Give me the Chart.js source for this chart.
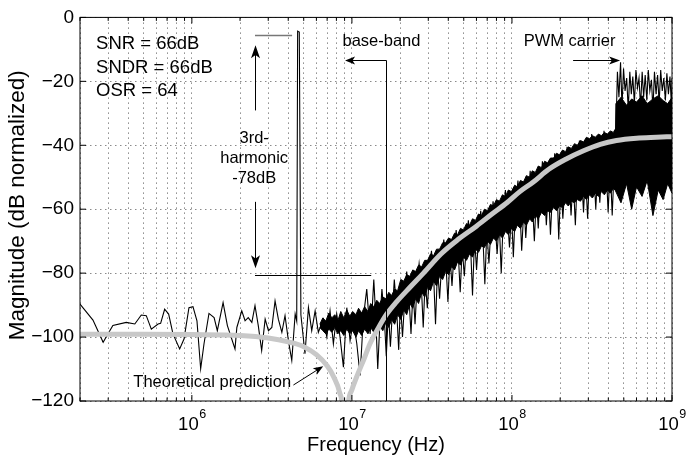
<!DOCTYPE html>
<html>
<head>
<meta charset="utf-8">
<title>Output spectrum</title>
<script src="https://cdn.jsdelivr.net/npm/chart.js@4.4.1/dist/chart.umd.min.js"></script>
<style>
  html, body { margin: 0; padding: 0; background: #fff; }
  #wrap { width: 686px; height: 457px; }
</style>
</head>
<body>
<div id="wrap"><canvas id="spec" width="686" height="457"></canvas></div>
<script>
/* ── Data: frequencies in MHz, magnitudes in dB ── */

// sparse low-frequency part of the measured spectrum (incl. the test tone)
const lowMHz = [0.200, 0.241, 0.279, 0.307, 0.321, 0.389, 0.440, 0.483, 0.519, 0.558,
  0.615, 0.638, 0.676, 0.716, 0.762, 0.839, 0.893, 0.959, 1.016, 1.076,
  1.135, 1.191, 1.279, 1.377, 1.442, 1.567, 1.667, 1.86, 1.91, 2.05,
  2.15, 2.25, 2.37, 2.48, 2.60, 2.73, 2.87, 3.01, 3.16, 3.31,
  3.47, 3.65, 3.82, 4.01, 4.21, 4.42, 4.52, 4.58, 4.69, 4.80,
  5.09, 5.35, 5.61, 5.89, 6.17, 6.63, 6.97, 7.30, 7.66, 8.04,
  8.43, 8.85, 9.29, 9.74, 10.21, 10.73, 11.25, 11.79, 12.38, 12.99];
const lowDb = [-89.7, -94.7, -101.6, -98.0, -96.4, -95.4, -95.9, -93.1, -93.3, -97.5,
  -95.9, -95.7, -91.3, -92.8, -99.0, -103.7, -100.6, -90.8, -90.5, -94.9,
  -109.9, -102.1, -92.6, -93.9, -98.0, -89.2, -96.4, -103.7, -97.0, -91.8,
  -94.9, -93.9, -95.4, -90.2, -96.4, -104.2, -94.4, -98.0, -97.0, -88.7,
  -94.4, -98.5, -93.3, -101.1, -107.3, -92.8, -95, -4.3, -4.6, -93,
  -105.2, -90.8, -98.0, -91.8, -98.5, -94.4, -100, -91.8, -102.1, -92.8,
  -100, -109.4, -90.8, -101.1, -94.9, -102.1, -112, -93.9, -85, -99];

// dense noise-shaped part: core level alternating with spikes
const noiseMHz = [13.3, 13.7, 14.1, 14.5, 15.0, 15.4, 15.9, 16.4, 16.9, 17.4,
  17.9, 18.4, 19.0, 19.6, 20.1, 20.7, 21.4, 22.0, 22.7, 23.4,
  24.1, 24.8, 25.5, 26.3, 27.1, 27.9, 28.7, 29.6, 30.5, 31.4,
  32.3, 33.3, 34.3, 35.3, 36.4, 37.5, 38.6, 39.8, 41.0, 42.2,
  43.5, 44.8, 46.1, 47.5, 48.9, 50.4, 51.9, 53.4, 55.0, 56.7,
  58.4, 60.1, 61.9, 63.8, 65.7, 67.7, 69.7, 71.8, 74.0, 76.2,
  78.5, 80.8, 83.2, 85.7, 88.3, 91.0, 93.7, 96.5, 99.4, 102,
  105, 109, 112, 115, 119, 122, 126, 130, 134, 138,
  142, 146, 150, 155, 160, 164, 169, 174, 180, 185,
  191, 196, 202, 208, 215, 221, 228, 234, 241, 249,
  256, 264, 272, 280, 288, 297, 306, 315, 324, 334,
  344, 354, 365, 376, 387, 399, 411, 423, 436];
const noiseDb = [-94, -82, -94, -110, -94, -85, -93, -106, -92, -103,
  -92, -82, -90.5, -104, -89, -100, -88, -79.5, -87, -99,
  -85, -96, -84, -77, -83, -97, -82, -91, -80, -73,
  -79, -96, -78, -88, -77, -69.5, -76, -89, -74.5, -84,
  -73.5, -66.5, -73, -86, -72, -81, -71, -63.5, -70, -87,
  -69, -79, -68.5, -60.5, -67.5, -83.5, -66.5, -77, -65.5, -57.5,
  -64.5, -74, -63.5, -80, -62.5, -54, -62, -72, -61, -75,
  -60, -51, -59, -73, -58.5, -69, -57.5, -48, -57, -70,
  -56, -66, -55, -45, -54, -65, -53.5, -68, -52.5, -42.5,
  -52, -69.5, -51.5, -63, -51, -40.5, -50.5, -62, -50, -65,
  -49.5, -38.5, -49, -61, -48.5, -63, -48, -36.5, -47, -60,
  -47, -58, -46.5, -35.5, -46, -61, -46, -62, -46];

// PWM carrier region
const carrierMHz = [446, 456, 466, 477, 487, 498, 509, 521, 533, 545,
  557, 569, 582, 595, 609, 622, 636, 651, 665, 680,
  696, 711, 727, 744, 760, 777, 795, 813, 831, 850,
  869, 889, 909, 929, 950, 971, 993, 1000];
const carrierDb = [-36, -17, -25, -14, -28, -16, -23, -19, -29, -17,
  -24, -18.5, -27, -16.5, -22, -19, -28, -17, -25, -18,
  -26, -16.5, -23, -19.5, -29, -17, -24, -18, -27, -16.5,
  -23, -19, -26, -17.5, -24, -18.5, -28, -19];

// solid core of the dense spectrum (ragged top and bottom edge)
const bandMHz = [6.3, 6.58, 6.87, 7.17, 7.49, 7.82, 8.16, 8.52, 8.9, 9.29,
  9.7, 10.1, 10.6, 11.0, 11.5, 12.0, 12.6, 13.1, 13.7, 14.3,
  14.9, 15.6, 16.3, 17.0, 17.7, 18.5, 19.3, 20.2, 21.1, 22.0,
  23.0, 24.0, 25.0, 26.1, 27.3, 28.5, 29.7, 31.0, 32.4, 33.8,
  35.3, 36.9, 38.5, 40.2, 41.9, 43.8, 45.7, 47.7, 49.8, 52.0,
  54.3, 56.7, 59.2, 61.8, 64.5, 67.3, 70.3, 73.4, 76.6, 80.0,
  83.5, 87.2, 91.0, 95.0, 99.2, 104, 108, 113, 118, 123,
  129, 134, 140, 146, 153, 160, 167, 174, 182, 190,
  198, 207, 216, 225, 235, 246, 256, 268, 280, 292,
  305, 318, 332, 347, 362, 378, 395, 412, 430, 441,
  446, 480, 520, 560, 600, 650, 700, 760, 820, 880, 940, 1000];
const bandTop = [-96, -94, -95, -92.5, -94, -93, -95, -92, -94, -91.5,
  -93.5, -92, -93, -91, -92.5, -90.5, -92, -89.5, -90.5, -88.5,
  -89.5, -87.5, -88, -86, -87, -85, -85.5, -82, -82.5, -80.5,
  -81, -79, -79.5, -77.5, -78, -76, -76, -74, -74.5, -72.5,
  -72.5, -70.5, -70.5, -69, -69.5, -67.5, -68, -66, -66.5, -64.5,
  -65, -63, -63.5, -61.5, -62, -60, -60.5, -58.5, -59, -57,
  -57.5, -55.5, -56, -54, -54.5, -52.5, -53, -51, -51.5, -49.5,
  -50, -48, -48.5, -46.5, -47, -45, -45.5, -44, -44, -42.5,
  -43, -41.5, -42, -40.5, -41, -39.5, -40, -38.5, -39, -37.5,
  -38, -37, -37.5, -36.5, -37, -36, -36.5, -35.5, -36, -35,
  -27, -25, -27.5, -25.5, -26.5, -24.5, -27, -25.5, -24.5, -26, -27, -25];
const bandBottom = [-97, -98, -99, -97.5, -98.5, -97, -99, -98, -99.5, -97.5,
  -99, -98, -100, -98, -99.5, -97.5, -99, -97, -98.5, -99,
  -96.5, -98, -95.5, -97, -94.5, -96, -93, -94.5, -91.5, -93,
  -89.5, -91, -88, -89.5, -86, -87.5, -84.5, -85.5, -82.5, -84,
  -81, -82, -79.5, -80.5, -78, -79, -76.5, -77.5, -75, -76,
  -74, -75, -72.5, -73.5, -71.5, -72, -70, -71, -69, -70,
  -68, -69, -67, -68, -66, -67, -65, -66, -64, -65,
  -63, -64, -62, -63, -61, -62, -60.5, -61, -59.5, -60.5,
  -59, -59.5, -58, -59, -57.5, -58, -57, -57.5, -56, -57,
  -55.5, -56.5, -55, -56, -54.5, -55.5, -54, -55, -53.5, -54,
  -54, -58, -52, -60, -53, -56, -51, -62, -54, -57, -52, -55];

// theoretical prediction (grey curve)
const theoryMHz = [0.2, 0.5, 1, 2, 3, 4, 5, 6, 7, 7.7, 8.4, 8.75, 9.05, 9.4, 10, 10.7,
  12, 12.9, 14.5, 16.4, 19, 23, 28, 36, 46, 60, 75, 93, 112, 136, 170, 220, 280, 356,
  450, 600, 800, 1000];
const theoryDb = [-99.1, -99.1, -99.2, -99.5, -100.3, -101.5, -103, -105.5, -109, -112.5,
  -117.5, -123, -145, -123, -116.5, -112.5, -106.4, -102.3, -97.5, -93, -89, -84.5,
  -80, -74, -69.5, -65.3, -61.5, -58, -54.5, -51.5, -47.5, -44.2, -41.7, -39.7,
  -38.5, -37.8, -37.5, -37.3];

/* ── Axes ── */
const yTicks = [0, -20, -40, -60, -80, -100, -120];
const xDecades = [1e6, 1e7, 1e8, 1e9];
const xDecadeExp = ['6', '7', '8', '9'];
const xMantissas = [1, 2, 3, 4, 5, 6, 7, 8, 9];
const xMin = 2e5, xMax = 1e9;

const xGrid = [];
[1e5, 1e6, 1e7, 1e8].forEach(d => xMantissas.forEach(m => {
  const v = m * d;
  if (v >= xMin && v <= xMax) xGrid.push(v);
}));
xGrid.push(1e9);

/* ── Annotations (data coordinates: Hz, dB) ── */
const statLines = ['SNR = 66dB', 'SNDR = 66dB', 'OSR = 64'];
const statY = [-8.4, -15.7, -22.9];
const harmLines = ['3rd-', 'harmonic', '-78dB'];
const harmY = [-38.0, -44.2, -50.4];

const FONT = '"Liberation Sans", Arial, Helvetica, sans-serif';

function toPts(mhz, db) { return mhz.map((f, i) => ({ x: f * 1e6, y: db[i] })); }
const crisp = v => Math.round(v) + 0.5;

function arrow(ctx, x0, y0, x1, y1, len, half) {
  const a = Math.atan2(y1 - y0, x1 - x0);
  const c = Math.cos(a), s = Math.sin(a);
  ctx.beginPath();
  ctx.moveTo(x0, y0);
  ctx.lineTo(x1 - len * c * 0.6, y1 - len * s * 0.6);
  ctx.stroke();
  ctx.beginPath();
  ctx.moveTo(x1, y1);
  ctx.lineTo(x1 - len * c + half * s, y1 - len * s - half * c);
  ctx.lineTo(x1 - len * c * 0.75, y1 - len * s * 0.75);
  ctx.lineTo(x1 - len * c - half * s, y1 - len * s + half * c);
  ctx.closePath();
  ctx.fill();
}

/* ── Decoration plugin: frame, inward ticks, labels, notes ── */
const decor = {
  id: 'decor',
  afterDraw(chart) {
    const { ctx, chartArea: a, scales: { x, y } } = chart;
    const X = f => x.getPixelForValue(f);
    const Y = v => y.getPixelForValue(v);
    ctx.save();

    // frame + inward ticks
    ctx.strokeStyle = '#000';
    ctx.lineWidth = 1;
    ctx.strokeRect(a.left, a.top, a.right - a.left, a.bottom - a.top);
    ctx.beginPath();
    xGrid.forEach(v => {
      const p = X(v), len = xDecades.includes(v) ? 6 : 3.5;
      ctx.moveTo(p, a.bottom); ctx.lineTo(p, a.bottom - len);
      ctx.moveTo(p, a.top); ctx.lineTo(p, a.top + len);
    });
    yTicks.forEach(v => {
      const p = Y(v);
      ctx.moveTo(a.left, p); ctx.lineTo(a.left + 6, p);
      ctx.moveTo(a.right, p); ctx.lineTo(a.right - 6, p);
    });
    ctx.stroke();

    // x tick labels 10^n
    ctx.fillStyle = '#000';
    ctx.textBaseline = 'alphabetic';
    ctx.textAlign = 'left';
    xDecades.forEach((v, i) => {
      ctx.font = '18.5px ' + FONT;
      const w1 = ctx.measureText('10').width;
      ctx.font = '12.5px ' + FONT;
      const w2 = ctx.measureText(xDecadeExp[i]).width;
      const left = X(v) - (w1 + w2) / 2;
      ctx.font = '18.5px ' + FONT;
      ctx.fillText('10', left, a.bottom + 28.5);
      ctx.font = '12.5px ' + FONT;
      ctx.fillText(xDecadeExp[i], left + w1 + 0.5, a.bottom + 17);
    });

    // axis titles
    ctx.font = '20px ' + FONT;
    ctx.textAlign = 'center';
    ctx.fillText('Frequency (Hz)', (a.left + a.right) / 2, a.bottom + 50);
    ctx.save();
    ctx.translate(24, (a.top + a.bottom) / 2 - 4);
    ctx.rotate(-Math.PI / 2);
    ctx.font = '22.5px ' + FONT;
    ctx.fillText('Magnitude (dB normalized)', 0, 0);
    ctx.restore();

    // SNR / SNDR / OSR
    ctx.textBaseline = 'middle';
    ctx.textAlign = 'left';
    ctx.font = '18.5px ' + FONT;
    statLines.forEach((t, i) => ctx.fillText(t, X(2.52e5), Y(statY[i])));

    // 3rd harmonic note
    ctx.font = '16.5px ' + FONT;
    ctx.textAlign = 'center';
    harmLines.forEach((t, i) => ctx.fillText(t, X(2.45e6), Y(harmY[i])));

    ctx.strokeStyle = '#777';
    ctx.lineWidth = 1.5;
    ctx.beginPath();
    ctx.moveTo(X(2.48e6), Y(-5.7)); ctx.lineTo(X(4.23e6), Y(-5.7));
    ctx.stroke();

    ctx.strokeStyle = '#000';
    ctx.fillStyle = '#000';
    ctx.lineWidth = 1;
    ctx.beginPath();
    ctx.moveTo(X(2.48e6), crisp(Y(-80.6))); ctx.lineTo(X(1.32e7), crisp(Y(-80.6)));
    ctx.stroke();
    const ax = crisp(X(2.48e6));
    arrow(ctx, ax, Y(-29.1), ax, Y(-8.7), 13, 4.5);
    arrow(ctx, ax, Y(-57.7), ax, Y(-78.5), 13, 4.5);

    // base-band
    const bx = crisp(X(1.635e7)), by = crisp(Y(-13.2));
    ctx.beginPath();
    ctx.moveTo(bx, Y(-120)); ctx.lineTo(bx, by);
    ctx.stroke();
    arrow(ctx, bx, by, X(9.06e6), by, 10, 4);
    ctx.fillText('base-band', X(1.53e7), Y(-7.5));

    // PWM carrier
    arrow(ctx, X(2.41e8), by, X(4.74e8), by, 11, 4);
    ctx.fillText('PWM carrier', X(2.29e8), Y(-7.5));

    // theoretical prediction
    ctx.fillText('Theoretical prediction', X(1.34e6), Y(-114.3));
    arrow(ctx, X(4.31e6), Y(-115), X(6.62e6), Y(-109.1), 10, 3.8);

    ctx.restore();
  }
};

/* ── Chart ── */
const gridOpts = { color: '#8a8a8a', lineWidth: 1, drawTicks: false };
const borderOpts = { display: false, dash: [1.5, 3.5] };

new Chart(document.getElementById('spec'), {
  type: 'line',
  data: {
    datasets: [
      { label: 'Theoretical prediction', data: toPts(theoryMHz, theoryDb),
        borderColor: '#c8c8c8', borderWidth: 5, cubicInterpolationMode: 'monotone',
        pointRadius: 0, fill: false, clip: 0 },
      { label: 'Measured', data: toPts(lowMHz, lowDb).concat(toPts(noiseMHz, noiseDb), toPts(carrierMHz, carrierDb)),
        borderColor: '#000', borderWidth: 1.1, tension: 0, pointRadius: 0, fill: false, clip: 0 },
      { label: 'core top', data: toPts(bandMHz, bandTop),
        borderColor: '#000', borderWidth: 1, pointRadius: 0, fill: false, clip: 0 },
      { label: 'core bottom', data: toPts(bandMHz, bandBottom),
        borderColor: '#000', borderWidth: 1, pointRadius: 0, fill: 2, backgroundColor: '#000', clip: 0 }
    ]
  },
  options: {
    responsive: false,
    animation: false,
    devicePixelRatio: 1,
    events: [],
    layout: { padding: { left: 0, right: 14, top: 14, bottom: 0 } },
    plugins: { legend: { display: false }, tooltip: { enabled: false } },
    scales: {
      x: {
        type: 'logarithmic', min: xMin, max: xMax,
        afterBuildTicks: s => { s.ticks = xGrid.map(v => ({ value: v })); },
        afterFit: s => { s.height = 56; },
        ticks: { display: false },
        grid: gridOpts, border: borderOpts
      },
      y: {
        min: -120, max: 0,
        afterBuildTicks: s => { s.ticks = yTicks.map(v => ({ value: v })); },
        afterFit: s => { s.width = 80; },
        ticks: {
          color: '#000', padding: 6,
          font: { family: FONT, size: 19 },
          callback: v => (v === 0 ? '0' : '\u2212' + Math.abs(v))
        },
        grid: gridOpts, border: borderOpts
      }
    }
  },
  plugins: [decor]
});
</script>
</body>
</html>
